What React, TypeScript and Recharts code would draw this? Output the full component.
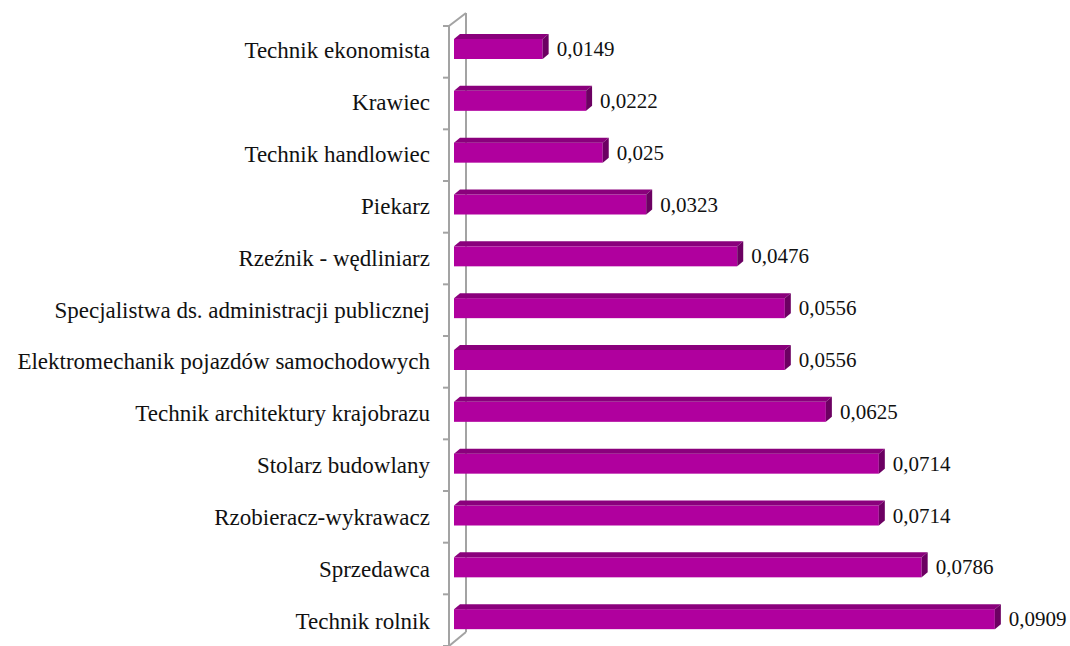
import React from 'react';
import { BarChart, Bar, XAxis, YAxis, LabelList, Customized } from 'recharts';

const categories = [
  'Technik ekonomista',
  'Krawiec',
  'Technik handlowiec',
  'Piekarz',
  'Rzeźnik - wędliniarz',
  'Specjalistwa ds. administracji publicznej',
  'Elektromechanik pojazdów samochodowych',
  'Technik architektury krajobrazu',
  'Stolarz budowlany',
  'Rzobieracz-wykrawacz',
  'Sprzedawca',
  'Technik rolnik',
];
const values = [0.0149, 0.0222, 0.025, 0.0323, 0.0476, 0.0556, 0.0556, 0.0625, 0.0714, 0.0714, 0.0786, 0.0909];
const axisDomain = [0, 0.1];

const data = categories.map((name, i) => ({ name, value: values[i] }));

const W = 1070;
const H = 646;
const M = { top: 21, right: 21, bottom: 3, left: 0 };
const Y_AXIS_W = 454;
const PLOT_LEFT = M.left + Y_AXIS_W;
const PLOT_TOP = M.top;
const PLOT_BOTTOM = H - M.bottom;

const FRONT = '#B0009E';
const TOP = '#8A007C';
const SIDE = '#6C0062';
const WALL = '#A3A3A3';
const FONT = '"Liberation Serif", "Times New Roman", serif';

const DEPTH_Y = 5;
const DEPTH_X = 6;

const Bar3D = (props: any) => {
  const { x, y, width, height } = props;
  if (width == null || height == null) return null;
  const fy = y + DEPTH_Y;
  const fh = height - DEPTH_Y;
  return (
    <g>
      <rect x={x} y={fy} width={width} height={fh} fill={FRONT} />
      <polygon
        points={`${x},${fy} ${x + DEPTH_X},${y} ${x + width + DEPTH_X},${y} ${x + width},${fy}`}
        fill={TOP}
      />
      <polygon
        points={`${x + width},${fy} ${x + width + DEPTH_X},${y} ${x + width + DEPTH_X},${y + fh} ${x + width},${y + height}`}
        fill={SIDE}
      />
    </g>
  );
};

const ValueLabel = (props: any) => {
  const { x, y, width, height, value } = props;
  const txt = String(value).replace('.', ',');
  return (
    <text
      x={x + width + 14}
      y={y + DEPTH_Y + (height - DEPTH_Y) / 2}
      dominantBaseline="central"
      fontFamily={FONT}
      fontSize={21}
      fill="#111"
    >
      {txt}
    </text>
  );
};

const CatTick = (props: any) => {
  const { y, payload } = props;
  return (
    <text
      x={PLOT_LEFT - 24}
      y={y + 4}
      textAnchor="end"
      dominantBaseline="central"
      fontFamily={FONT}
      fontSize={23}
      fill="#111"
    >
      {payload.value}
    </text>
  );
};

const Wall = () => {
  const fx = PLOT_LEFT - 5;
  const fTop = PLOT_TOP + 5;
  const fBot = PLOT_BOTTOM + 3;
  const bx = fx + 17;
  const bTop = fTop - 13;
  const bBot = fBot - 14;
  const n = categories.length;
  const step = (fBot - fTop) / n;
  const ticks = [];
  for (let i = 0; i <= n; i++) {
    const ty = fTop + i * step;
    ticks.push(<line key={i} x1={fx - 6} y1={ty} x2={fx} y2={ty} stroke={WALL} strokeWidth={2} />);
  }
  return (
    <g>
      <line x1={bx} y1={bTop} x2={bx} y2={bBot} stroke={WALL} strokeWidth={2} />
      <line x1={fx} y1={fTop} x2={bx} y2={bTop} stroke={WALL} strokeWidth={2} />
      <line x1={fx} y1={fBot} x2={bx} y2={bBot} stroke={WALL} strokeWidth={2} />
      <line x1={fx} y1={fTop} x2={fx} y2={fBot} stroke={WALL} strokeWidth={2} />
      {ticks}
    </g>
  );
};

export default function App() {
  return (
    <div style={{ position: 'absolute', left: 0, top: 0, width: W, height: H, background: '#fff' }}>
      <BarChart width={W} height={H} data={data} layout="vertical" margin={M} barSize={25}>
        <Customized component={<Wall />} />
        <XAxis type="number" domain={axisDomain} hide />
        <YAxis
          type="category"
          dataKey="name"
          width={Y_AXIS_W}
          axisLine={false}
          tickLine={false}
          tick={<CatTick />}
          interval={0}
        />
        <Bar dataKey="value" shape={<Bar3D />} isAnimationActive={false}>
          <LabelList dataKey="value" content={<ValueLabel />} />
        </Bar>
      </BarChart>
    </div>
  );
}
